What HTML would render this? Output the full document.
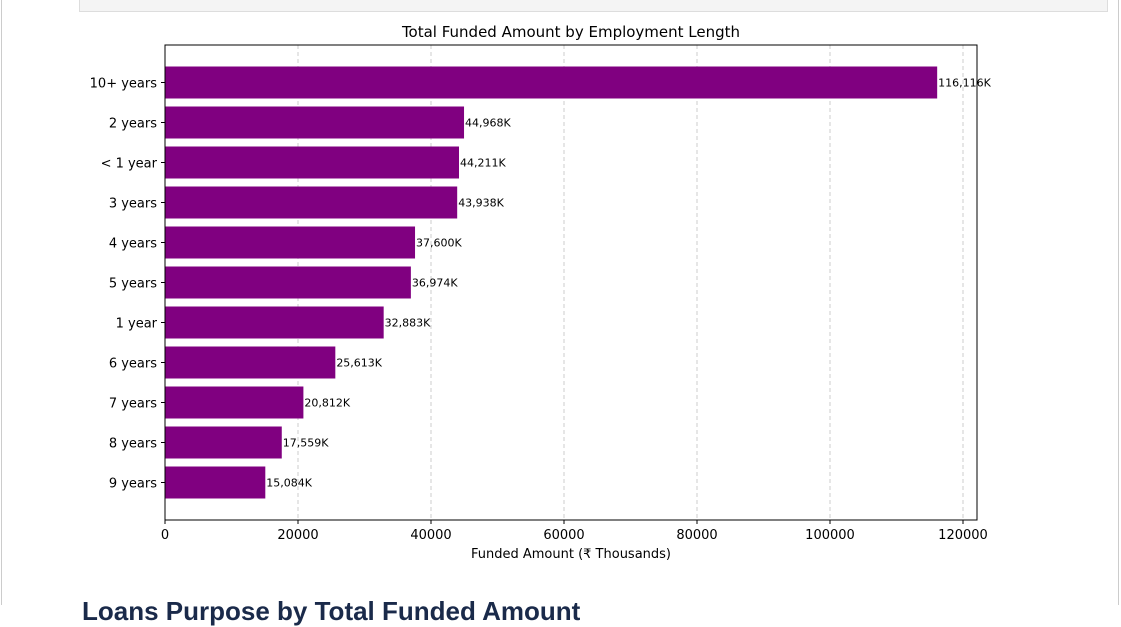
<!DOCTYPE html>
<html><head><meta charset="utf-8"><style>
body{margin:0;width:1121px;height:605px;overflow:hidden;background:#fff;font-family:"Liberation Sans","DejaVu Sans",sans-serif;position:relative}
#topbox{position:absolute;left:79px;top:-1px;width:1027px;height:11px;background:#f4f4f4;border:1px solid #ddd}
#lb{position:absolute;left:1px;top:0;width:1px;height:605px;background:#ccc}
#rb{position:absolute;left:1118px;top:0;width:1px;height:605px;background:#ccc}
#h2{position:absolute;left:82px;top:596px;font-size:26px;font-weight:bold;color:#1a2a4a;white-space:nowrap}
svg text{font-family:"DejaVu Sans","Liberation Sans",sans-serif}
</style></head><body>
<div id="lb"></div>
<div id="rb"></div>
<div id="topbox"></div>
<svg id="chart" width="1121" height="605" style="position:absolute;left:0;top:0"></svg>
<div id="h2">Loans Purpose by Total Funded Amount</div>
<script>
const categories=["10+ years","2 years","< 1 year","3 years","4 years","5 years","1 year","6 years","7 years","8 years","9 years"];
const values=[116116,44968,44211,43938,37600,36974,32883,25613,20812,17559,15084];
const xTicks=[0,20000,40000,60000,80000,100000,120000];
const NS="http://www.w3.org/2000/svg";
const svg=document.getElementById('chart');
const L=165,R=977,T=45,B=520;
const x=v=>L+v*(798/120000);
const band=40;
const yc=i=>82.5+band*i;
function mk(t,a,txt){const e=document.createElementNS(NS,t);for(const k in a)e.setAttribute(k,a[k]);if(txt!=null)e.textContent=txt;svg.appendChild(e);return e;}
xTicks.forEach(t=>{
 const g=mk('line',{x1:x(t),x2:x(t),y1:T,y2:B,stroke:'#ccc','stroke-dasharray':'4,3','stroke-width':1});
 
 
 mk('line',{x1:x(t),x2:x(t),y1:B,y2:B+4,stroke:'#000'});
 const l=mk('text',{x:x(t),y:B+19,'text-anchor':'middle','font-size':13,fill:'#000'},String(t));
 
 
});
categories.forEach((c,i)=>{
 const b=mk('rect',{x:L,y:yc(i)-16,width:x(values[i])-L,height:32,fill:'#800080'});
 
 
 mk('line',{x1:L-4,x2:L,y1:yc(i),y2:yc(i),stroke:'#000'});
 const l=mk('text',{x:L-8,y:yc(i)+5,'text-anchor':'end','font-size':13,fill:'#000'},c);
 
 
 const v=mk('text',{x:x(values[i])+1,y:yc(i)+4,'font-size':11,fill:'#000'},Math.round(values[i]).toLocaleString('en-US')+'K');
 
 
});
const ax=mk('rect',{x:L,y:T,width:R-L,height:B-T,fill:'none',stroke:'#000','stroke-width':1});


const ti=mk('text',{x:(L+R)/2,y:37,'text-anchor':'middle','font-size':15,fill:'#000'},'Total Funded Amount by Employment Length');


const xt=mk('text',{x:(L+R)/2,y:558,'text-anchor':'middle','font-size':13,fill:'#000'},'Funded Amount (₹ Thousands)');


</script>
</body></html>
